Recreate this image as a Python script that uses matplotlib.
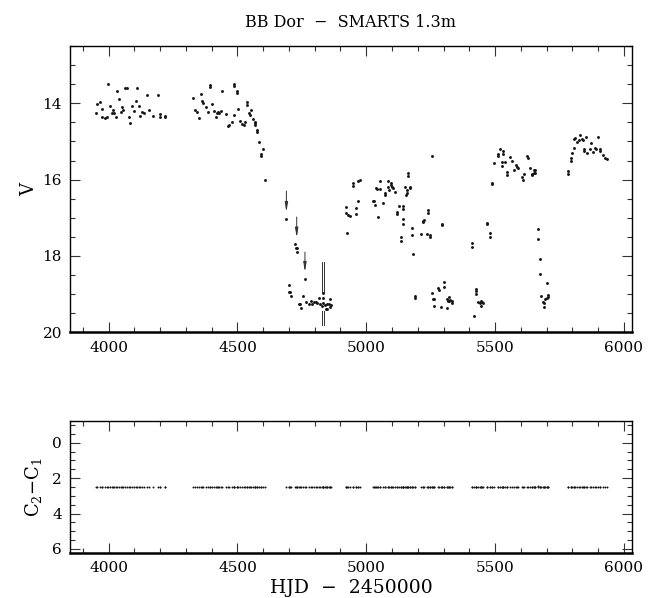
import matplotlib
matplotlib.use('Agg')
import matplotlib.pyplot as plt
import numpy as np

plt.rcParams['font.family'] = ['DejaVu Serif']
plt.rcParams['mathtext.fontset'] = 'dejavuserif'

# V light curve, one list per observing season
s1_hjd = [3951, 3956, 3965, 3973, 3975, 3987, 3992, 3998, 4005, 4012,
          4018, 4021, 4028, 4033, 4040, 4047, 4052, 4057, 4065, 4072,
          4079, 4084, 4090, 4099, 4106, 4110, 4116, 4123, 4129, 4137,
          4150, 4158, 4171, 4193, 4198, 4199, 4217, 4217]
s1_v = [14.26, 14.03, 13.97, 14.35, 14.14, 14.39, 14.35, 13.49, 14.06, 14.26,
        14.17, 14.26, 14.35, 13.67, 13.89, 14.23, 14.09, 14.18, 13.60, 13.59,
        14.35, 14.51, 14.07, 14.20, 13.95, 13.59, 14.06, 14.34, 14.23, 14.26,
        13.78, 14.18, 14.34, 13.79, 14.29, 14.36, 14.32, 14.36]

s2_hjd = [4327, 4335, 4343, 4351, 4357, 4364, 4365, 4377, 4384, 4392,
          4392, 4400, 4408, 4417, 4421, 4425, 4430, 4435, 4440, 4454,
          4463, 4468, 4478, 4485, 4488, 4488, 4497, 4497, 4503, 4510,
          4518, 4524, 4530, 4538, 4538, 4546, 4547, 4553, 4559, 4567,
          4568, 4568, 4577, 4577, 4585, 4593, 4593, 4599, 4608]
s2_v = [13.85, 14.18, 14.24, 14.38, 13.75, 13.93, 13.98, 14.10, 14.23, 13.53,
        13.57, 14.03, 14.21, 14.35, 14.26, 14.23, 14.25, 14.20, 13.67, 14.29,
        14.60, 14.57, 14.49, 14.31, 13.50, 13.54, 13.69, 13.73, 14.14, 14.47,
        14.53, 14.56, 14.48, 13.97, 14.04, 14.25, 14.30, 14.18, 14.42, 14.49,
        14.52, 14.56, 14.70, 14.75, 15.02, 15.32, 15.38, 15.21, 16.02]

s3_hjd = [4690, 4699, 4701, 4703, 4707, 4724, 4727, 4730, 4732, 4740,
          4742, 4745, 4755, 4762, 4767, 4778, 4784, 4791, 4797, 4804,
          4809, 4815, 4821, 4827, 4833, 4833, 4834, 4840, 4844, 4846,
          4849, 4854, 4859, 4859, 4863]
s3_v = [17.03, 18.75, 18.95, 18.95, 19.05, 17.68, 17.78, 17.78, 17.90, 19.25,
        19.27, 19.36, 19.05, 18.61, 19.21, 19.27, 19.18, 19.26, 19.21, 19.20,
        19.24, 19.11, 19.25, 19.30, 18.97, 19.10, 19.23, 19.29, 19.38, 19.26,
        19.38, 19.26, 19.12, 19.33, 19.29]

s4_hjd = [4922, 4922, 4927, 4931, 4937, 4947, 4947, 4960, 4960, 4969,
          4969, 4976]
s4_v = [16.72, 16.88, 17.40, 16.92, 16.96, 16.09, 16.16, 16.74, 16.90, 16.57,
        16.04, 16.02]

s5_hjd = [5028, 5030, 5033, 5038, 5040, 5047, 5054, 5055, 5064, 5072,
          5073, 5083, 5083, 5088, 5095, 5095, 5100, 5102, 5112, 5118,
          5118, 5126, 5135, 5135, 5142, 5142, 5142, 5142, 5152, 5155,
          5158, 5158, 5164, 5164, 5170, 5170, 5177, 5177, 5183, 5191,
          5191]
s5_v = [16.56, 16.55, 16.67, 16.21, 16.24, 16.98, 16.03, 16.24, 16.61, 16.34,
        16.40, 16.03, 16.19, 16.26, 16.10, 16.14, 16.18, 16.22, 16.32, 16.85,
        16.90, 16.70, 17.51, 17.60, 16.70, 16.76, 17.03, 17.16, 16.20, 16.40,
        16.35, 16.28, 15.83, 15.90, 16.20, 16.23, 17.26, 17.44, 17.96, 19.04,
        19.10]

s6_hjd = [5214, 5219, 5221, 5225, 5235, 5241, 5241, 5249, 5249, 5256,
          5257, 5258, 5262, 5263, 5277, 5281, 5290, 5296, 5296, 5303,
          5303, 5312, 5312, 5318, 5321, 5323, 5325, 5333, 5334]
s6_v = [17.42, 17.08, 17.12, 17.05, 17.42, 16.80, 16.88, 17.46, 17.50, 18.98,
        15.39, 19.14, 19.14, 19.30, 18.83, 18.88, 19.33, 17.16, 17.20, 18.67,
        18.82, 19.12, 19.36, 19.17, 19.08, 19.19, 19.15, 19.17, 19.22]

s7_hjd = [5411, 5411, 5420, 5425, 5425, 5428, 5434, 5440, 5446, 5447,
          5451, 5455, 5468, 5468, 5481, 5481, 5490, 5490, 5495, 5512,
          5513, 5520, 5526, 5526, 5532, 5532, 5539, 5547, 5547, 5558,
          5567, 5575, 5581, 5584, 5588, 5604, 5609, 5613, 5624, 5628,
          5637, 5642, 5645, 5650, 5652, 5656, 5657, 5668, 5668, 5674,
          5674, 5679, 5688, 5690, 5692, 5696, 5700, 5701, 5707, 5707]
s7_v = [17.66, 17.77, 19.56, 18.86, 18.92, 19.00, 19.21, 19.23, 19.18, 19.30,
        19.21, 19.24, 17.13, 17.16, 17.39, 17.49, 16.08, 16.12, 15.56, 15.32,
        15.37, 15.19, 15.55, 15.64, 15.25, 15.34, 15.53, 15.81, 15.87, 15.40,
        15.52, 15.74, 15.62, 15.66, 15.69, 15.93, 16.00, 15.84, 15.37, 15.44,
        15.70, 15.89, 15.85, 15.82, 15.75, 15.75, 15.82, 17.30, 17.56, 18.09,
        18.48, 19.04, 19.20, 19.22, 19.33, 19.14, 18.72, 19.11, 19.07, 19.03]

s8_hjd = [5785, 5785, 5795, 5795, 5799, 5806, 5806, 5810, 5819, 5825,
          5830, 5838, 5840, 5846, 5846, 5854, 5859, 5867, 5872, 5881,
          5890, 5892, 5900, 5908, 5908, 5918, 5927, 5934]
s8_v = [15.78, 15.86, 15.44, 15.50, 15.30, 15.17, 14.94, 14.92, 15.02, 14.95,
        14.84, 14.93, 14.95, 15.21, 15.26, 14.88, 15.30, 15.19, 15.03, 15.28,
        15.18, 15.20, 14.88, 15.21, 15.26, 15.36, 15.43, 15.47]

# comparison stars C2 - C1, same nights
s1_c21 = [2.50, 2.51, 2.49, 2.50, 2.52, 2.50, 2.49, 2.51, 2.50, 2.48,
          2.50, 2.51, 2.50, 2.49, 2.50, 2.52, 2.50, 2.51, 2.49, 2.50,
          2.50, 2.48, 2.51, 2.50, 2.49, 2.50, 2.51, 2.50, 2.52, 2.49,
          2.50, 2.51, 2.50, 2.49, 2.50, 2.51, 2.50, 2.50]
s2_c21 = [2.51, 2.50, 2.49, 2.50, 2.52, 2.50, 2.51, 2.49, 2.50, 2.50,
          2.48, 2.50, 2.51, 2.50, 2.49, 2.50, 2.52, 2.50, 2.51, 2.50,
          2.49, 2.50, 2.50, 2.51, 2.48, 2.50, 2.49, 2.51, 2.50, 2.52,
          2.50, 2.49, 2.50, 2.51, 2.50, 2.50, 2.49, 2.51, 2.50, 2.48,
          2.50, 2.51, 2.50, 2.49, 2.50, 2.52, 2.50, 2.51, 2.49]
s3_c21 = [2.50, 2.49, 2.51, 2.50, 2.50, 2.52, 2.49, 2.50, 2.51, 2.50,
          2.48, 2.50, 2.51, 2.49, 2.50, 2.50, 2.52, 2.50, 2.49, 2.51,
          2.50, 2.50, 2.49, 2.51, 2.50, 2.48, 2.50, 2.51, 2.50, 2.49,
          2.50, 2.52, 2.50, 2.51, 2.49]
s4_c21 = [2.50, 2.51, 2.49, 2.50, 2.52, 2.50, 2.49, 2.51, 2.50, 2.50,
          2.48, 2.50]
s5_c21 = [2.51, 2.50, 2.49, 2.50, 2.50, 2.52, 2.50, 2.49, 2.51, 2.50,
          2.50, 2.48, 2.50, 2.51, 2.49, 2.50, 2.50, 2.52, 2.50, 2.49,
          2.51, 2.50, 2.50, 2.49, 2.51, 2.50, 2.48, 2.50, 2.51, 2.50,
          2.49, 2.50, 2.52, 2.50, 2.51, 2.49, 2.50, 2.50, 2.51, 2.49,
          2.50]
s6_c21 = [2.50, 2.49, 2.51, 2.50, 2.50, 2.52, 2.49, 2.50, 2.51, 2.50,
          2.48, 2.50, 2.51, 2.49, 2.50, 2.50, 2.52, 2.50, 2.49, 2.51,
          2.50, 2.50, 2.49, 2.51, 2.50, 2.48, 2.50, 2.51, 2.50]
s7_c21 = [2.50, 2.51, 2.49, 2.50, 2.52, 2.50, 2.49, 2.51, 2.50, 2.48,
          2.50, 2.51, 2.50, 2.49, 2.50, 2.52, 2.50, 2.51, 2.49, 2.50,
          2.50, 2.48, 2.51, 2.50, 2.49, 2.50, 2.51, 2.50, 2.52, 2.49,
          2.50, 2.51, 2.50, 2.49, 2.50, 2.51, 2.50, 2.50, 2.49, 2.51,
          2.50, 2.48, 2.50, 2.51, 2.49, 2.50, 2.50, 2.47, 2.50, 2.49,
          2.51, 2.50, 2.50, 2.49, 2.51, 2.50, 2.48, 2.50, 2.51, 2.50]
s8_c21 = [2.50, 2.49, 2.51, 2.50, 2.50, 2.52, 2.49, 2.50, 2.51, 2.50,
          2.48, 2.50, 2.51, 2.49, 2.50, 2.50, 2.52, 2.50, 2.49, 2.51,
          2.50, 2.50, 2.49, 2.51, 2.50, 2.48, 2.50, 2.51]

# arrows marking the decline, and the double bar
arrow_hjd = [4690, 4730, 4762]
arrow_from = [16.30, 16.98, 17.90]
arrow_to = [16.85, 17.52, 18.42]
bar_hjd = [4830, 4836]
bar_segments = [(18.15, 18.95), (19.45, 19.80)]

hjd = np.concatenate([s1_hjd, s2_hjd, s3_hjd, s4_hjd, s5_hjd, s6_hjd, s7_hjd, s8_hjd])
v = np.concatenate([s1_v, s2_v, s3_v, s4_v, s5_v, s6_v, s7_v, s8_v])
c21 = np.concatenate([s1_c21, s2_c21, s3_c21, s4_c21, s5_c21, s6_c21, s7_c21, s8_c21])

fig = plt.figure(figsize=(6.57, 5.98), dpi=100)
ax1 = fig.add_axes([0.107, 0.4443, 0.855, 0.4787])
ax2 = fig.add_axes([0.107, 0.0753, 0.855, 0.2207])

ax1.plot(hjd, v, 'o', ms=2.1, mec='none', color='#151515')
for x, y0, y1 in zip(arrow_hjd, arrow_from, arrow_to):
    ax1.annotate('', xy=(x, y1), xytext=(x, y0),
                 arrowprops=dict(arrowstyle='-|>,head_width=0.09,head_length=0.55',
                                 lw=0.7, color='#333333', shrinkA=0, shrinkB=0))
for x in bar_hjd:
    for y0, y1 in bar_segments:
        ax1.plot([x, x], [y0, y1], color='#333333', lw=0.7)

ax2.plot(hjd, c21, 'o', ms=1.4, mec='none', color='#151515')

for ax in (ax1, ax2):
    ax.set_xlim(3851, 6032)
    ax.set_xticks([4000, 4500, 5000, 5500, 6000])
    ax.set_xticks(np.arange(3900, 6001, 100), minor=True)
    ax.tick_params(which='both', direction='in', top=True, right=True,
                   labelsize=11, color='#333333', width=0.8)
    ax.tick_params(which='major', length=7.2, pad=6)
    ax.tick_params(which='minor', length=3.6)
    for sp in ax.spines.values():
        sp.set_linewidth(1.0)
    ax.spines['bottom'].set_linewidth(1.8)

ax1.set_ylim(20, 12.5)
ax1.set_yticks([14, 16, 18, 20])
ax1.set_yticks(np.arange(12.5, 20.01, 0.5), minor=True)
ax1.set_ylabel('V', fontsize=13)
ax1.yaxis.set_label_coords(-0.058, 0.5)

ax2.set_ylim(6.23, -1.23)
ax2.set_yticks([0, 2, 4, 6])
ax2.set_yticks(np.arange(-1, 6.01, 0.5), minor=True)
ax2.set_ylabel('C$_2$\u2212C$_1$', fontsize=13)
ax2.yaxis.set_label_coords(-0.046, 0.5)
ax2.set_xlabel('HJD  \u2212  2450000', fontsize=13.5)
ax2.xaxis.set_label_coords(0.5, -0.2)

fig.text(0.534, 0.962, 'BB Dor  \u2212  SMARTS 1.3m', ha='center', va='center', fontsize=11.5)

fig.savefig('out.png', dpi=100)
